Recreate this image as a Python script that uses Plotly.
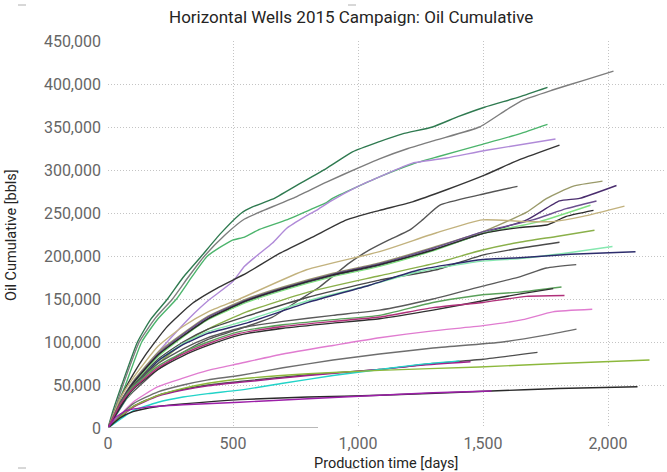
import plotly.graph_objects as go

# Cumulative oil production per horizontal well (days on production, bbls)
w01_days = [0, 20, 55, 118, 170, 238, 300, 374, 450, 534, 578, 658, 760, 874, 978, 1086, 1178, 1298, 1400, 1506, 1646, 1758]
w01_oil = [0, 20000, 50000, 100000, 126000, 150000, 175000, 200000, 226000, 250000, 257000, 266000, 283000, 302000, 321000, 333000, 342000, 350000, 362000, 373000, 385000, 396000]

w02_days = [0, 25, 60, 125, 190, 258, 320, 386, 470, 546, 606, 738, 874, 1006, 1086, 1200, 1314, 1486, 1594, 1658, 1778, 1900, 2022]
w02_oil = [0, 20000, 50000, 100000, 128000, 150000, 175000, 200000, 225000, 243000, 251000, 267000, 286000, 303000, 313000, 325000, 335000, 350000, 370000, 381000, 393000, 404000, 415000]

w03_days = [0, 25, 70, 135, 200, 274, 336, 398, 494, 546, 606, 714, 818, 874, 898, 1086, 1218, 1326, 1486, 1646, 1758]
w03_oil = [0, 18000, 50000, 100000, 127000, 150000, 176000, 200000, 218000, 222000, 231000, 242000, 255000, 262000, 267000, 292000, 307000, 316000, 329000, 342000, 353000]

w04_days = [0, 50, 100, 150, 200, 274, 326, 400, 498, 546, 594, 658, 714, 790, 833, 886, 1000, 1086, 1218, 1354, 1514, 1790]
w04_oil = [0, 25000, 48000, 68000, 88000, 112000, 128000, 148000, 170000, 188000, 200000, 215000, 232000, 246000, 253000, 263000, 281000, 292000, 308000, 314000, 323000, 336000]

w05_days = [0, 50, 100, 150, 234, 338, 446, 554, 686, 818, 954, 1086, 1218, 1354, 1506, 1646, 1806]
w05_oil = [0, 35000, 62000, 85000, 117000, 145000, 164000, 180000, 203000, 222000, 242000, 253000, 263000, 277000, 294000, 312000, 329000]

w06_days = [0, 50, 100, 200, 300, 400, 554, 658, 760, 846, 966, 1046, 1126, 1206, 1258, 1326, 1486, 1638]
w06_oil = [0, 25000, 42000, 68000, 88000, 103000, 118000, 129000, 148000, 164000, 192000, 207000, 219000, 230000, 242000, 259000, 271000, 281000]

w07_days = [0, 50, 100, 200, 300, 400, 554, 700, 900, 1086, 1300, 1498, 1675, 1755, 1859, 1978]
w07_oil = [0, 31000, 54000, 88000, 110000, 130000, 150000, 164000, 180000, 192000, 210000, 228000, 251000, 267000, 281000, 287000]

w08_days = [0, 50, 100, 200, 300, 400, 554, 700, 900, 1086, 1300, 1498, 1675, 1806, 1886, 2034]
w08_oil = [0, 29000, 51000, 84000, 107000, 127000, 147000, 161000, 177000, 189000, 207000, 226000, 242000, 264000, 267000, 282000]

w09_days = [0, 50, 100, 200, 300, 400, 554, 700, 900, 1086, 1300, 1498, 1699, 1833, 1954]
w09_oil = [0, 30000, 53000, 86000, 109000, 129000, 149000, 163000, 179000, 191000, 209000, 228000, 242000, 255000, 264000]

w10_days = [0, 50, 100, 200, 300, 400, 554, 700, 900, 1086, 1300, 1498, 1726, 1930]
w10_oil = [0, 28000, 50000, 83000, 106000, 126000, 146000, 160000, 176000, 188000, 206000, 226000, 240000, 259000]

w11_days = [0, 50, 100, 200, 300, 400, 554, 700, 900, 1086, 1300, 1498, 1646, 1755, 1833, 1942]
w11_oil = [0, 29000, 52000, 85000, 107000, 127000, 148000, 162000, 178000, 190000, 207000, 226000, 233000, 236000, 246000, 253000]

w12_days = [0, 50, 100, 200, 300, 400, 526, 794, 1086, 1314, 1498, 1673, 1781, 1900, 2066]
w12_oil = [0, 35000, 58000, 95000, 118000, 135000, 150000, 184000, 205000, 227000, 242000, 240000, 240000, 246000, 258000]

w13_days = [0, 100, 200, 300, 400, 554, 800, 1086, 1314, 1498, 1646, 1800, 1946]
w13_oil = [0, 45000, 75000, 98000, 115000, 135000, 158000, 177000, 192000, 207000, 216000, 223000, 230000]

w14_days = [0, 100, 200, 300, 400, 554, 800, 1086, 1314, 1498, 1646, 1806]
w14_oil = [0, 48000, 80000, 100000, 115000, 130000, 152000, 172000, 184000, 201000, 209000, 216000]

w15_days = [0, 100, 200, 300, 400, 554, 800, 1046, 1246, 1498, 1646, 1850, 2018]
w15_oil = [0, 45000, 78000, 98000, 112000, 125000, 148000, 166000, 182000, 194000, 197000, 204000, 211000]

w16_days = [0, 100, 200, 300, 400, 554, 800, 1046, 1246, 1498, 1646, 1850, 2110]
w16_oil = [0, 46000, 78000, 97000, 110000, 122000, 146000, 166000, 184000, 196000, 198000, 202000, 205000]

w17_days = [0, 50, 100, 200, 300, 400, 526, 700, 900, 1086, 1300, 1499, 1650, 1753, 1873]
w17_oil = [0, 30000, 50000, 75000, 92000, 105000, 116000, 124000, 131000, 137000, 150000, 165000, 176000, 186000, 190000]

w18_days = [0, 50, 100, 200, 300, 400, 526, 700, 900, 1086, 1300, 1498, 1646, 1814]
w18_oil = [0, 28000, 48000, 72000, 88000, 100000, 112000, 120000, 126000, 131000, 146000, 155000, 158000, 164000]

w19_days = [0, 50, 100, 200, 300, 400, 526, 700, 900, 1086, 1300, 1500, 1650, 1781]
w19_oil = [0, 25000, 45000, 68000, 84000, 96000, 108000, 116000, 122000, 127000, 137000, 148000, 156000, 162000]

w20_days = [0, 50, 100, 200, 300, 400, 526, 700, 900, 1086, 1300, 1500, 1673, 1826]
w20_oil = [0, 28000, 46000, 70000, 86000, 98000, 110000, 118000, 124000, 129000, 140000, 146000, 153000, 154000]

w21_days = [0, 100, 200, 300, 400, 526, 700, 900, 1086, 1300, 1500, 1659, 1779, 1937]
w21_oil = [0, 30000, 48000, 58000, 67000, 75000, 86000, 96000, 105000, 113000, 119000, 126000, 135000, 138000]

w22_days = [0, 100, 200, 300, 400, 526, 700, 900, 1086, 1300, 1579, 1750, 1874]
w22_oil = [0, 28000, 42000, 50000, 56000, 61000, 70000, 79000, 86000, 93000, 100000, 108000, 115000]

w23_days = [0, 100, 200, 300, 400, 526, 800, 1086, 1300, 1500, 1718]
w23_oil = [0, 25000, 38000, 45000, 50000, 54000, 62000, 68000, 75000, 80000, 88000]

w24_days = [0, 100, 200, 300, 400, 526, 800, 1086, 1250, 1450]
w24_oil = [0, 24000, 37000, 44000, 49000, 53000, 61000, 68000, 73000, 77000]

w25_days = [0, 100, 200, 300, 400, 526, 700, 900, 1086, 1250, 1406]
w25_oil = [0, 20000, 30000, 36000, 40000, 44000, 52000, 61000, 68000, 74000, 78000]

w26_days = [0, 100, 200, 300, 400, 526, 800, 1086, 1486, 1800, 2166]
w26_oil = [0, 25000, 38000, 46000, 52000, 57000, 63000, 67000, 71000, 75000, 79000]

w27_days = [0, 50, 100, 200, 300, 526, 800, 1086, 1533, 1800, 2118]
w27_oil = [0, 12000, 19000, 25000, 28000, 33000, 36000, 38000, 43000, 46000, 48000]

w28_days = [0, 30, 70, 150, 300, 526, 800, 1086, 1300, 1534]
w28_oil = [0, 12000, 20000, 24000, 27000, 30000, 34000, 38000, 41000, 43000]

w29_days = [0, 840]
w29_oil = [0, 0]

x_ticks = [0, 500, 1000, 1500, 2000]
y_ticks = [0, 50000, 100000, 150000, 200000, 250000, 300000, 350000, 400000, 450000]

wells = [
    (w01_days, w01_oil, "#2f7a50"),
    (w02_days, w02_oil, "#7d7d7d"),
    (w03_days, w03_oil, "#4cb46c"),
    (w04_days, w04_oil, "#b08ad8"),
    (w05_days, w05_oil, "#353535"),
    (w06_days, w06_oil, "#555555"),
    (w07_days, w07_oil, "#9a9a6a"),
    (w08_days, w08_oil, "#4a2d6e"),
    (w09_days, w09_oil, "#6b4f8f"),
    (w10_days, w10_oil, "#80e080"),
    (w11_days, w11_oil, "#2a2a2a"),
    (w12_days, w12_oil, "#c2b27e"),
    (w13_days, w13_oil, "#8ab04a"),
    (w14_days, w14_oil, "#4a4a4a"),
    (w15_days, w15_oil, "#86e8b0"),
    (w16_days, w16_oil, "#2c2c6c"),
    (w17_days, w17_oil, "#5a5a5a"),
    (w18_days, w18_oil, "#5aa05a"),
    (w19_days, w19_oil, "#303030"),
    (w20_days, w20_oil, "#b0307a"),
    (w21_days, w21_oil, "#e07cd0"),
    (w22_days, w22_oil, "#6e6e6e"),
    (w23_days, w23_oil, "#4e4e4e"),
    (w24_days, w24_oil, "#a0208c"),
    (w25_days, w25_oil, "#22d3c8"),
    (w26_days, w26_oil, "#8cb83c"),
    (w27_days, w27_oil, "#2a2a2a"),
    (w28_days, w28_oil, "#9c1fa8"),
    (w29_days, w29_oil, "#a0a0a0"),
]

fig = go.Figure()
for days, oil, color in wells:
    fig.add_trace(go.Scatter(
        x=days, y=oil, mode="lines",
        line=dict(color=color, width=1.4, shape="spline", smoothing=0.5),
        showlegend=False,
    ))

tick_font = dict(family="Roboto, sans-serif", size=16, color="#666666")
grid = dict(showgrid=True, gridcolor="#c4c4c4", griddash="1px,2px", gridwidth=1,
            zeroline=False, showline=False, ticks="", tickfont=tick_font)
fig.update_xaxes(range=[0, 2232], tickvals=x_ticks, tickformat=",",
                 ticklabelstandoff=4, **grid)
fig.update_yaxes(range=[0, 450000], tickvals=y_ticks, tickformat=",",
                 ticklabelstandoff=6, **grid)

W, H = 667, 472
L, R, T, B = 108, 1, 41, 44


def to_paper(px, py):
    return (px - L) / (W - L - R), (H - B - py) / (H - T - B)


def label(text, px, py, size, angle=0):
    x, y = to_paper(px, py)
    return dict(text=text, x=x, y=y, xref="paper", yref="paper",
                xanchor="center", yanchor="middle", showarrow=False,
                textangle=angle,
                font=dict(family="Roboto, sans-serif", size=size, color="#252423"))


# Small frame handles at the corners of the visual container
handles = []
for hx, hy in [(18, 5), (348, 5), (18, 468), (348, 468)]:
    x0, y0 = to_paper(hx, hy)
    x1, _ = to_paper(hx + 8, hy)
    handles.append(dict(type="line", xref="paper", yref="paper",
                        x0=x0, x1=x1, y0=y0, y1=y0,
                        line=dict(color="#b0b0b0", width=1)))

fig.update_layout(
    width=W, height=H,
    margin=dict(l=L, r=R, t=T, b=B),
    paper_bgcolor="white", plot_bgcolor="white",
    annotations=[
        label("Horizontal Wells 2015 Campaign: Oil Cumulative", 351, 17, 17),
        label("Production time [days]", 386, 463, 14.5),
        label("Oil Cumulative [bbls]", 12, 235, 14.5, angle=-90),
    ],
    shapes=handles,
)

fig.write_html("out.html")
